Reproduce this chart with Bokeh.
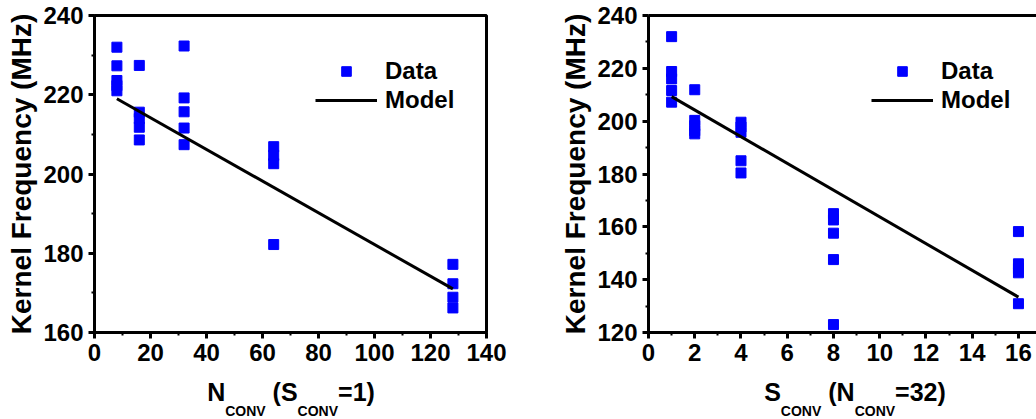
from bokeh.plotting import figure
from bokeh.layouts import row, column
from bokeh.models import (Legend, LegendItem, SingleIntervalTicker, Range1d,
                          LinearAxis, FixedTicker)
from bokeh.core.properties import value
from bokeh.embed import file_html
from bokeh.resources import INLINE

# ---------------- data ----------------
n_conv = [8, 8, 8, 8, 8,
          16, 16, 16, 16, 16,
          32, 32, 32, 32, 32,
          64, 64, 64, 64,
          128, 128, 128, 128]
freq_n = [232.0, 227.3, 223.6, 222.3, 221.0,
          227.4, 215.6, 214.0, 211.8, 208.6,
          232.3, 219.2, 215.7, 211.6, 207.4,
          206.9, 204.7, 202.6, 182.2,
          177.2, 172.3, 168.9, 166.2]
model_n_x = [8, 128]
model_n_y = [219.0, 171.0]

s_conv = [1, 1, 1, 1, 1,
          2, 2, 2, 2, 2,
          4, 4, 4, 4, 4,
          8, 8, 8, 8, 8,
          16, 16, 16, 16, 16]
freq_s = [232.0, 218.8, 216.0, 211.6, 207.2,
          211.9, 200.3, 198.3, 196.4, 195.2,
          199.6, 197.8, 195.8, 185.0, 180.4,
          165.0, 162.6, 157.6, 147.6, 123.0,
          158.2, 146.0, 144.2, 142.6, 130.9]
model_s_x = [1, 16]
model_s_y = [209.3, 133.4]

y_title = "Kernel Frequency (MHz)"
legend_labels = ["Data", "Model"]
# (text, kind, leading gap in em of the big font)
left_xlabel = [("N", "big", 0), ("CONV", "sub", 0), ("(S", "big", 0.278),
               ("CONV", "sub", 0), ("=1)", "big", 0)]
right_xlabel = [("S", "big", 0), ("CONV", "sub", 0), ("(N", "big", 0.278),
                ("CONV", "sub", 0), ("=32)", "big", 0)]

# ---------------- style ----------------
FONT = "Liberation Sans"
BLUE = "#0000FF"
BIG = 25
SUB = 14
MAIN_H = 372
LAB_H = 47
# Arial/Liberation Sans Bold advance widths (per 1000 em)
ADV = {"N": 722, "C": 722, "O": 778, "V": 667, "S": 667, "(": 333, ")": 333,
       "=": 584, "1": 556, "2": 556, "3": 556, " ": 278}


def text_w(t, size):
    return sum(ADV[c] for c in t) * size / 1000.0


def make_fig(width, mb_left, mb_right, xr, yr, xint, yint, xs, ys, mx, my,
             legend_xy, full_box):
    p = figure(width=width, height=MAIN_H, x_range=Range1d(*xr), y_range=Range1d(*yr),
               output_backend="svg", toolbar_location=None,
               min_border_left=mb_left, min_border_right=mb_right,
               min_border_top=15, min_border_bottom=40)
    p.xgrid.visible = False
    p.ygrid.visible = False
    p.background_fill_color = "white"
    p.border_fill_color = "white"

    xa = p.below[0]
    ya = p.left[0]
    xa.ticker = SingleIntervalTicker(interval=xint, num_minor_ticks=2)
    ya.ticker = SingleIntervalTicker(interval=yint, num_minor_ticks=2)
    for ax in (xa, ya):
        ax.axis_line_width = 3
        ax.axis_line_color = "black"
        ax.major_tick_line_width = 3
        ax.minor_tick_line_width = 2
        ax.major_tick_out = 6
        ax.major_tick_in = 0
        ax.minor_tick_out = 3
        ax.minor_tick_in = 0
        ax.major_label_text_font = FONT
        ax.major_label_text_font_style = "bold"
        ax.major_label_text_font_size = "24px"
        ax.major_label_text_color = "black"
        ax.major_label_standoff = 5
    ya.axis_label = y_title
    ya.axis_label_text_font = FONT
    ya.axis_label_text_font_style = "bold"
    ya.axis_label_text_font_size = "28px"
    ya.axis_label_text_color = "black"
    ya.axis_label_standoff = 3

    if full_box:
        p.outline_line_color = "black"
        p.outline_line_width = 3
        p.outline_line_alpha = 1.0
    else:
        p.outline_line_color = None
        top = LinearAxis(ticker=FixedTicker(ticks=[]), axis_line_width=3,
                         axis_line_color="black", major_tick_line_color=None,
                         minor_tick_line_color=None)
        p.add_layout(top, "above")

    sc = p.scatter(xs, ys, marker="square", size=10, fill_color=BLUE, line_color=BLUE)
    ln = p.line(mx, my, line_color="black", line_width=3)

    legend = Legend(items=[LegendItem(label=value(legend_labels[0]), renderers=[sc]),
                           LegendItem(label=value(legend_labels[1]), renderers=[ln])],
                    location=legend_xy, glyph_width=62, glyph_height=24, label_standoff=8,
                    label_text_font=FONT, label_text_font_style="bold",
                    label_text_font_size="24px", label_text_color="black",
                    border_line_alpha=0, background_fill_alpha=0, padding=0, margin=0,
                    spacing=1)
    p.add_layout(legend)
    return p


def make_label_fig(width, mb_left, mb_right, center, parts):
    fw = width - mb_left - mb_right
    q = figure(width=width, height=LAB_H, x_range=Range1d(0, fw), y_range=Range1d(0, LAB_H),
               output_backend="svg", toolbar_location=None, title=None,
               x_axis_location=None, y_axis_location=None,
               min_border_left=mb_left, min_border_right=mb_right,
               min_border_top=0, min_border_bottom=0)
    q.xgrid.visible = False
    q.ygrid.visible = False
    q.outline_line_color = None
    q.background_fill_color = "white"
    q.border_fill_color = "white"
    total = sum(g * BIG + text_w(t, BIG if k == "big" else SUB) for t, k, g in parts)
    x = center - total / 2.0
    for t, k, g in parts:
        size = BIG if k == "big" else SUB
        x += g * BIG
        q.text(x=[x], y=[28 if k == "big" else 9], text=[t],
               text_font=value(FONT), text_font_style="bold",
               text_font_size=value(f"{size}px"), text_color="black",
               text_align="left", text_baseline="alphabetic")
        x += text_w(t, size)
    return q


W1, W2 = 548, 488
p1 = make_fig(W1, 94, 62, (0, 140), (160, 240), 20, 20, n_conv, freq_n,
              model_n_x, model_n_y, (221, 218), True)
p2 = make_fig(W2, 100, 0, (0, 16.78), (120, 240), 2, 20, s_conv, freq_s,
              model_s_x, model_s_y, (223, 218), False)
l1 = make_label_fig(W1, 94, 62, 196.5, left_xlabel)
l2 = make_label_fig(W2, 100, 0, 206.5, right_xlabel)

layout = row(column(p1, l1), column(p2, l2))
open("out.html", "w").write(file_html(layout, INLINE))
